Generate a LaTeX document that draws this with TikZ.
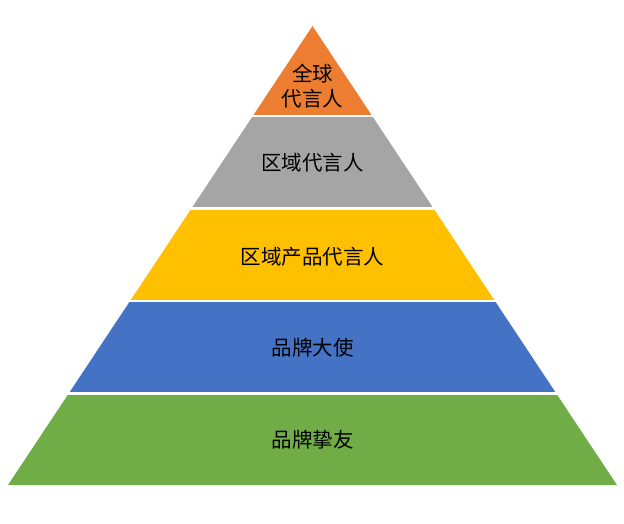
\documentclass[tikz,border=0pt]{standalone}
\usepackage{fontspec}
\newfontfamily\cjk{Noto Sans CJK SC}
\usepackage{tikz}
\definecolor{lvorange}{HTML}{ED7D31}
\definecolor{lvgray}{HTML}{A5A5A5}
\definecolor{lvyellow}{HTML}{FFC000}
\definecolor{lvblue}{HTML}{4472C4}
\definecolor{lvgreen}{HTML}{70AD47}
\tikzset{
  lbl/.style={font=\cjk\fontsize{20.5pt}{25pt}\selectfont,text=black,align=center,inner sep=0pt},
  gap/.style={draw=white,line width=2.2pt},
}
\begin{document}
\begin{tikzpicture}[x=1pt,y=-1pt]
\useasboundingbox (0,0) rectangle (624,523);
% layers, apex at (312.5,26), base y=485
\foreach \ya/\yb/\col in {26/116/lvorange,116/208.5/lvgray,208.5/301/lvyellow,301/393.5/lvblue,393.5/485/lvgreen}
  \fill[\col] ({312.5-0.6634*(\ya-26)},\ya) -- ({312.5+0.6634*(\ya-26)},\ya)
    -- ({312.5+0.6634*(\yb-26)},\yb) -- ({312.5-0.6634*(\yb-26)},\yb) -- cycle;
\foreach \y in {116,208.5,301,393.5}
  \draw[gap] (0,\y) -- (624,\y);
\node[lbl] (top) at (312.5,86) {全球\\代言人};
\node[lbl] (region) at (312.5,163) {区域代言人};
\node[lbl] (product) at (312.5,256.5) {区域产品代言人};
\node[lbl] (ambassador) at (312.5,348) {品牌大使};
\node[lbl] (friend) at (312.5,440) {品牌挚友};
\end{tikzpicture}
\end{document}
